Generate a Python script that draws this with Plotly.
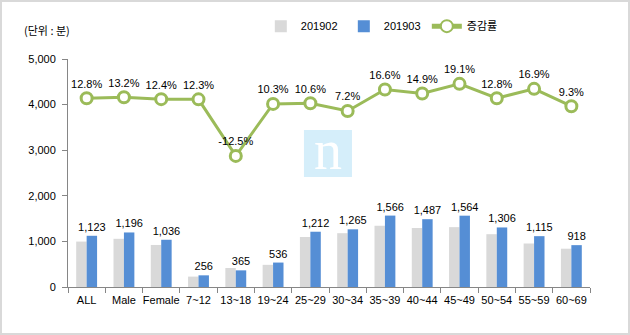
import plotly.graph_objects as go

categories = ["ALL", "Male", "Female", "7~12", "13~18", "19~24", "25~29", "30~34",
              "35~39", "40~44", "45~49", "50~54", "55~59", "60~69"]
v201902 = [996, 1057, 922, 228, 417, 486, 1096, 1180, 1343, 1294, 1313, 1158, 954, 840]
v201903 = [1123, 1196, 1036, 256, 365, 536, 1212, 1265, 1566, 1487, 1564, 1306, 1115, 918]
rate = [12.8, 13.2, 12.4, 12.3, -12.5, 10.3, 10.6, 7.2, 16.6, 14.9, 19.1, 12.8, 16.9, 9.3]

FONT = "Liberation Sans, Noto Sans CJK KR, sans-serif"
GREEN = "#9bbb59"

fig = go.Figure()
fig.add_trace(go.Bar(x=categories, y=v201902, name="201902",
                     marker=dict(color="#d9d9d9", line=dict(width=0))))
fig.add_trace(go.Bar(x=categories, y=v201903, name="201903",
                     marker=dict(color="#558ed5", line=dict(width=0)),
                     text=v201903, texttemplate="%{y:,}", textposition="outside",
                     textangle=0, constraintext="none",
                     textfont=dict(size=11, color="#000000", family=FONT),
                     cliponaxis=False))
fig.add_trace(go.Scatter(x=categories, y=rate, name="증감률", yaxis="y2",
                         mode="lines+markers+text",
                         line=dict(color=GREEN, width=3),
                         marker=dict(symbol="circle", size=11, color="white",
                                     line=dict(color=GREEN, width=3)),
                         texttemplate="%{y:.1f}%", textposition="top center",
                         textfont=dict(size=11, color="#000000", family=FONT),
                         cliponaxis=False))

fig.update_layout(
    width=630, height=335,
    margin=dict(l=68, r=40, t=59, b=48, autoexpand=False),
    paper_bgcolor="white", plot_bgcolor="white",
    font=dict(family=FONT, size=11, color="#000000"),
    barmode="group", bargap=0.44, bargroupgap=0,
    uniformtext=dict(mode=False),
    showlegend=True,
    legend=dict(orientation="h", xref="container", yref="container",
                x=0.414, y=0.922, xanchor="left", yanchor="middle",
                font=dict(size=11, family=FONT), entrywidth=38,
                bgcolor="rgba(0,0,0,0)", itemsizing="constant",
                traceorder="normal"),
    xaxis=dict(type="category", range=[-0.5, 13.5], showgrid=False, showline=True,
               linecolor="#868686", linewidth=1, ticks="outside",
               tickson="boundaries", ticklen=5, ticklabelstandoff=3,
               tickcolor="#868686", tickangle=0, automargin=False,
               tickfont=dict(size=11, family=FONT)),
    yaxis=dict(range=[0, 5000], dtick=1000, tickformat=",", showgrid=False,
               showline=True, linecolor="#868686", linewidth=1, ticks="outside",
               ticklen=5, tickcolor="#868686", zeroline=False, automargin=False,
               ticklabelstandoff=4,
               tickfont=dict(size=11, family=FONT)),
    yaxis2=dict(range=[-70, 30], overlaying="y", side="right", visible=False,
                showgrid=False, zeroline=False),
    shapes=[
        dict(type="rect", xref="paper", yref="paper", x0=0.452, x1=0.544,
             y0=0.482, y1=0.689, fillcolor="#d5eefa", line=dict(width=0),
             layer="below"),
        dict(type="rect", xref="paper", yref="paper",
             x0=-67/522, x1=561/522, y0=-47/228, y1=286/228,
             line=dict(color="#d9d9d9", width=2), fillcolor="rgba(0,0,0,0)",
             layer="below"),
    ],
    annotations=[
        dict(text="(단위 : 분)", xref="paper", yref="paper", x=-46/522, y=(287-30)/228,
             xanchor="left", yanchor="middle", showarrow=False,
             font=dict(size=11, family="Noto Sans CJK KR, sans-serif", color="#000000")),
        dict(text="n", xref="paper", yref="paper", x=0.498, y=0.455,
             xanchor="center", yanchor="bottom", showarrow=False,
             font=dict(size=56, family="Liberation Serif, DejaVu Serif, serif",
                       color="white")),
    ],
)

fig.write_html("out.html")
